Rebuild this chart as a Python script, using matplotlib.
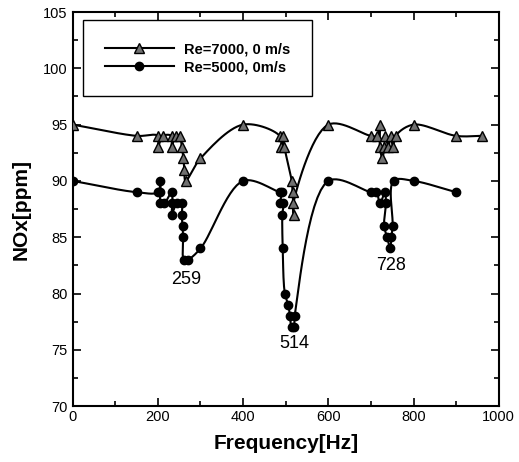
import numpy as np
import matplotlib
matplotlib.use("Agg")
import matplotlib.pyplot as plt
from matplotlib.ticker import MultipleLocator

plt.rcParams['font.family'] = ['Liberation Sans', 'DejaVu Sans']

# Re=7000, 0 m/s  (triangles), listed in the order the curve passes them
freq_7000 = [0, 150, 200, 200, 212, 232, 232, 242, 251, 256, 260, 262, 265,
             300, 400, 486, 490, 494, 497, 514, 516, 519, 518,
             600, 700, 715, 721, 721, 727, 731, 734, 741, 746, 752, 758,
             800, 900, 960]
nox_7000 = [95, 94, 94, 93, 94, 94, 93, 94, 94, 93, 92, 91, 90,
            92, 95, 94, 93, 94, 93, 90, 89, 87, 88,
            95, 94, 94, 95, 93, 92, 93, 94, 93, 94, 93, 94,
            95, 94, 94]

# Re=5000, 0m/s  (circles)
freq_5000 = [0, 150, 200, 206, 206, 206, 215, 232, 234, 232, 245, 256, 256,
             258, 259, 261, 270, 300, 400,
             486, 492, 486, 494, 492, 493, 498, 506, 510, 514, 519, 521,
             600, 700, 713, 721, 733, 735, 731, 738, 745, 748, 751, 753,
             800, 900]
nox_5000 = [90, 89, 89, 90, 89, 88, 88, 89, 88, 87, 88, 88, 87,
            86, 85, 83, 83, 84, 90,
            89, 89, 88, 88, 87, 84, 80, 79, 78, 77, 77, 78,
            90, 89, 89, 88, 89, 88, 86, 85, 84, 85, 86, 90,
            90, 89]

labels = ["Re=7000, 0 m/s", "Re=5000, 0m/s"]
dip_text = ["259", "514", "728"]
dip_x = [267, 521, 748]
dip_y = [81.2, 75.6, 82.5]


def smooth(x, y, n=16, alpha=0.5):
    # centripetal Catmull-Rom through the points (passes through every point)
    p = np.column_stack([np.asarray(x, float) / 1000 * 4.3,
                         np.asarray(y, float) / 35 * 3.9])
    p = np.vstack([2 * p[0] - p[1], p, 2 * p[-1] - p[-2]])
    out = [p[1]]
    for i in range(1, len(p) - 2):
        p0, p1, p2, p3 = p[i - 1], p[i], p[i + 1], p[i + 2]
        t0 = 0.0
        t1 = t0 + max(np.linalg.norm(p1 - p0), 1e-6) ** alpha
        t2 = t1 + max(np.linalg.norm(p2 - p1), 1e-6) ** alpha
        t3 = t2 + max(np.linalg.norm(p3 - p2), 1e-6) ** alpha
        t = np.linspace(t1, t2, n)[1:, None]
        a1 = (t1 - t) / (t1 - t0) * p0 + (t - t0) / (t1 - t0) * p1
        a2 = (t2 - t) / (t2 - t1) * p1 + (t - t1) / (t2 - t1) * p2
        a3 = (t3 - t) / (t3 - t2) * p2 + (t - t2) / (t3 - t2) * p3
        b1 = (t2 - t) / (t2 - t0) * a1 + (t - t0) / (t2 - t0) * a2
        b2 = (t3 - t) / (t3 - t1) * a2 + (t - t1) / (t3 - t1) * a3
        c = (t2 - t) / (t2 - t1) * b1 + (t - t1) / (t2 - t1) * b2
        out.extend(c)
    out = np.array(out)
    return out[:, 0] * 1000 / 4.3, out[:, 1] * 35 / 3.9


fig = plt.figure(figsize=(5.19, 4.62), dpi=100)
ax = fig.add_axes([0.140, 0.121, 0.821, 0.853])

sx, sy = smooth(freq_7000, nox_7000)
ax.plot(sx, sy, color='k', lw=1.5, zorder=2)
ax.plot(freq_7000, nox_7000, ls='none', marker='^', ms=6.5, mfc='#707070',
        mec='k', mew=1.0, zorder=3)
sx, sy = smooth(freq_5000, nox_5000)
ax.plot(sx, sy, color='k', lw=1.5, zorder=2)
ax.plot(freq_5000, nox_5000, ls='none', marker='o', ms=6, mfc='k',
        mec='k', zorder=3)

# legend handles
h1, = ax.plot([], [], color='k', lw=1.5, marker='^', ms=6.5, mfc='#707070', mec='k')
h2, = ax.plot([], [], color='k', lw=1.5, marker='o', ms=6, mfc='k', mec='k')
leg = ax.legend([h1, h2], labels, loc='upper left', bbox_to_anchor=(0.025, 0.979),
                borderaxespad=0, borderpad=1.5, handlelength=4.7, handletextpad=0.7,
                labelspacing=0.3, fancybox=False, edgecolor='k', framealpha=1,
                prop={'weight': 'bold', 'size': 10.5})
leg.get_frame().set_linewidth(1.0)

for t, x, y in zip(dip_text, dip_x, dip_y):
    ax.text(x, y, t, ha='center', va='center', fontsize=13)

ax.set_xlim(0, 1000)
ax.set_ylim(70, 105)
ax.xaxis.set_major_locator(MultipleLocator(200))
ax.xaxis.set_minor_locator(MultipleLocator(100))
ax.yaxis.set_major_locator(MultipleLocator(5))
ax.yaxis.set_minor_locator(MultipleLocator(2.5))
ax.tick_params(which='both', direction='in', top=True, right=True, labelsize=10.5, width=1.2)
ax.tick_params(which='major', length=6)
ax.tick_params(which='minor', length=3.5)
ax.tick_params(axis='x', pad=3)
for s in ax.spines.values():
    s.set_linewidth(1.5)

ax.set_xlabel('Frequency[Hz]', fontsize=15, fontweight='bold', labelpad=7)
ax.set_ylabel('NOx[ppm]', fontsize=15, fontweight='bold', labelpad=9)

fig.savefig('out.png', dpi=100)
